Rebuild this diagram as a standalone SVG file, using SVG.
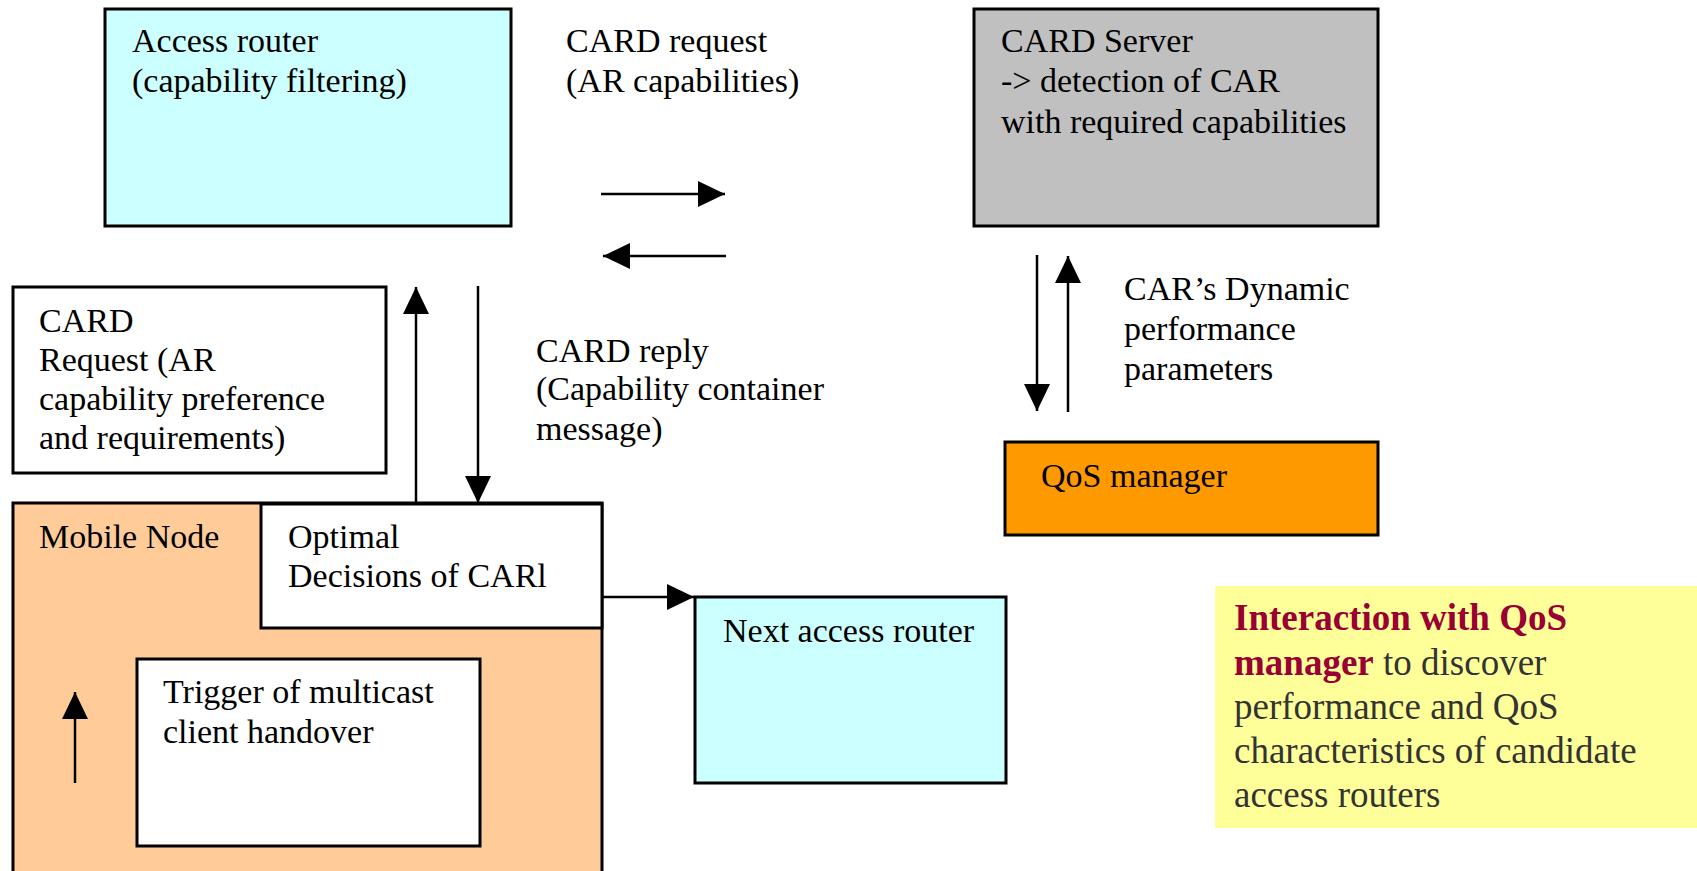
<svg xmlns="http://www.w3.org/2000/svg" width="1697" height="871" viewBox="0 0 1697 871">
<style>
text{font-family:"Liberation Serif","Times New Roman",serif;font-size:34px;fill:#000}
.box{stroke:#000;stroke-width:3}
.conn line{stroke:#000;stroke-width:2.5}
.note text{font-size:37px}
.hi{font-weight:bold;fill:#990033}
.gr{fill:#333333}
</style>
<defs>
<marker id="ah" markerUnits="userSpaceOnUse" markerWidth="27" markerHeight="26" refX="27" refY="13" orient="auto" viewBox="0 0 27 26">
<path d="M0,0 L27,13 L0,26 z" fill="#000"/>
</marker>
</defs>
<rect x="0" y="0" width="1697" height="871" fill="#fff"/>
<g id="access-router">
<rect class="box" x="105" y="9" width="406" height="217" fill="#CCFFFF"/>
<text x="132" y="52">Access router</text>
<text x="132" y="92">(capability filtering)</text>
</g>
<g id="card-request-label">
<text x="566" y="52">CARD request</text>
<text x="566" y="92">(AR capabilities)</text>
</g>
<g id="card-server">
<rect class="box" x="974" y="9" width="404" height="217" fill="#C0C0C0"/>
<text x="1001" y="52">CARD Server</text>
<text x="1001" y="92">-&gt; detection of CAR</text>
<text x="1001" y="133">with required capabilities</text>
</g>
<g id="dynamic-label">
<text x="1124" y="300">CAR’s Dynamic</text>
<text x="1124" y="340">performance</text>
<text x="1124" y="380">parameters</text>
</g>
<g id="qos-manager">
<rect class="box" x="1005" y="442" width="373" height="93" fill="#FF9900"/>
<text x="1041" y="487">QoS manager</text>
</g>
<g id="card-request-box">
<rect class="box" x="13" y="287" width="373" height="186" fill="#fff"/>
<text x="39" y="332">CARD</text>
<text x="39" y="371">Request (AR</text>
<text x="39" y="410">capability preference</text>
<text x="39" y="449">and requirements)</text>
</g>
<g id="card-reply-label">
<text x="536" y="362">CARD reply</text>
<text x="536" y="400">(Capability container</text>
<text x="536" y="440">message)</text>
</g>
<g id="mobile-node">
<rect class="box" x="13" y="503" width="589" height="400" fill="#FFCC99"/>
<text x="39" y="548">Mobile Node</text>
</g>
<g id="optimal-decisions">
<rect class="box" x="261" y="504" width="341" height="124" fill="#fff"/>
<text x="288" y="548">Optimal</text>
<text x="288" y="587">Decisions of CARl</text>
</g>
<g id="trigger">
<rect class="box" x="137" y="659" width="343" height="187" fill="#fff"/>
<text x="163" y="703">Trigger of multicast</text>
<text x="163" y="743">client handover</text>
</g>
<g id="next-access-router">
<rect class="box" x="695" y="597" width="311" height="186" fill="#CCFFFF"/>
<text x="723" y="642">Next access router</text>
</g>
<g id="note" class="note">
<rect x="1215" y="586" width="482" height="242" fill="#FFFF99"/>
<text x="1234" y="630"><tspan class="hi">Interaction with QoS</tspan></text>
<text x="1234" y="675"><tspan class="hi">manager</tspan><tspan class="gr"> to discover</tspan></text>
<text x="1234" y="719" class="gr">performance and QoS</text>
<text x="1234" y="763" class="gr">characteristics of candidate</text>
<text x="1234" y="807" class="gr">access routers</text>
</g>
<g id="connectors" class="conn">
<line x1="601" y1="194" x2="725" y2="194" marker-end="url(#ah)"/>
<line x1="726" y1="256" x2="603" y2="256" marker-end="url(#ah)"/>
<line x1="1037" y1="255" x2="1037" y2="411" marker-end="url(#ah)"/>
<line x1="1068" y1="412" x2="1068" y2="256" marker-end="url(#ah)"/>
<line x1="416" y1="503" x2="416" y2="287" marker-end="url(#ah)"/>
<line x1="478" y1="286" x2="478" y2="503" marker-end="url(#ah)"/>
<line x1="602" y1="597" x2="694" y2="597" marker-end="url(#ah)"/>
<line x1="75" y1="783" x2="75" y2="692" marker-end="url(#ah)"/>
</g>
</svg>
